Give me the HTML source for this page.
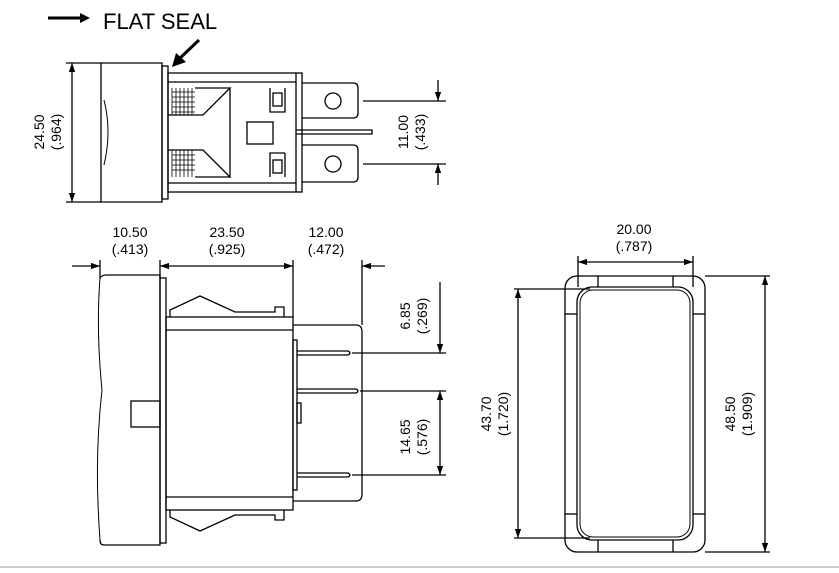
<!DOCTYPE html>
<html><head><style>body{margin:0;background:#fff}svg{display:block}</style></head><body>
<svg width="839" height="573" viewBox="0 0 839 573" xmlns="http://www.w3.org/2000/svg" font-family="Liberation Sans, sans-serif" fill="none" stroke="#000" stroke-width="1.3">
<defs>
<marker id="a" viewBox="0 0 10 10" refX="10" refY="5" markerWidth="9" markerHeight="9" orient="auto-start-reverse" markerUnits="userSpaceOnUse"><path d="M0,1.5L10,5L0,8.5z" fill="#000" stroke="none"/></marker>
</defs>
<line x1="48" y1="18" x2="82" y2="18" stroke-width="3"/>
<path d="M80,13L90,18L80,23z" fill="#000" stroke="none"/>
<text x="103" y="29" font-size="22" fill="#000" stroke="none">FLAT SEAL</text>
<line x1="199" y1="40" x2="178" y2="60" stroke-width="3"/>
<path d="M172,67L176,53L186,62z" fill="#000" stroke="none"/>

<path d="M101,63H162V202H101z"/>
<path d="M104,100Q112,132 104,165" stroke-width="1"/>
<rect x="162" y="66" width="6" height="133"/>
<rect x="168" y="73" width="134" height="119"/>
<line x1="168" y1="82" x2="296" y2="82"/><line x1="168" y1="183" x2="296" y2="183"/>
<line x1="296" y1="73" x2="296" y2="192"/>
<g stroke-width="0.8">
<path d="M172,88V115M176,88V115M180,88V115M184,88V115M188,88V115M192,88V115M172,150V177M176,150V177M180,150V177M184,150V177M188,150V177M192,150V177"/>
<path d="M172,92H195M172,97H195M172,102H195M172,107H195M172,112H195M172,155H195M172,160H195M172,165H195M172,170H195"/>
</g>
<path d="M195,88H230L203,115H168M195,177H230L203,150H168"/>
<line x1="230" y1="88" x2="230" y2="177"/>
<path d="M270,88V112H285V88M270,177V153H285V153 M285,177V153"/>
<rect x="273" y="93" width="9" height="13"/><rect x="273" y="160" width="9" height="13"/>
<rect x="247" y="122" width="26" height="22"/>
<path d="M302,83H353Q358,83 358,88V113Q358,118 353,118H302"/>
<path d="M302,145H353Q358,145 358,150V177Q358,182 353,182H302"/>
<circle cx="333" cy="101" r="8"/><circle cx="333" cy="164" r="8"/>
<path d="M296,130H372V134H296"/>
<line x1="363" y1="101" x2="446" y2="101"/><line x1="363" y1="164" x2="446" y2="164"/>
<line x1="438" y1="80" x2="438" y2="101" marker-end="url(#a)"/>
<line x1="438" y1="185" x2="438" y2="164" marker-end="url(#a)"/>
<g font-size="14" fill="#000" stroke="none" text-anchor="middle">
<text transform="translate(408,132) rotate(-90)">11.00</text>
<text transform="translate(425,132) rotate(-90)">(.433)</text>
<text transform="translate(44,132) rotate(-90)">24.50</text>
<text transform="translate(61,132) rotate(-90)">(.964)</text>
</g>
<line x1="66" y1="63" x2="101" y2="63"/><line x1="66" y1="202" x2="101" y2="202"/>
<line x1="72" y1="63" x2="72" y2="202" marker-start="url(#a)" marker-end="url(#a)"/>

<g font-size="14" fill="#000" stroke="none" text-anchor="middle">
<text x="130" y="237">10.50</text><text x="130" y="254">(.413)</text>
<text x="227" y="237">23.50</text><text x="227" y="254">(.925)</text>
<text x="326" y="237">12.00</text><text x="326" y="254">(.472)</text>
</g>
<line x1="100" y1="260" x2="100" y2="278"/><line x1="160" y1="260" x2="160" y2="278"/>
<line x1="293" y1="260" x2="293" y2="317"/><line x1="362" y1="260" x2="362" y2="325"/>
<line x1="72" y1="266" x2="100" y2="266" marker-end="url(#a)"/>
<line x1="160" y1="266" x2="293" y2="266" marker-start="url(#a)" marker-end="url(#a)"/>
<line x1="385" y1="266" x2="362" y2="266" marker-end="url(#a)"/>
<path d="M100,278Q102,275 106,275H160V545H104Q100,545 100,540"/>
<path d="M100,278Q96,330 102,390Q94,460 100,540" stroke-width="1"/>
<rect x="160" y="278" width="6" height="265"/>
<rect x="131" y="401" width="29" height="26"/>
<rect x="166" y="317" width="127" height="193"/>
<line x1="166" y1="330" x2="293" y2="330"/><line x1="166" y1="497" x2="293" y2="497"/>
<path d="M170,317V310L200,296L235,312H275V307H284V317"/>
<path d="M170,510V517L200,531L235,515H275V520H284V510"/>
<path d="M293,325H356Q362,325 362,332V494Q362,501 356,501H293"/>
<rect x="293" y="340" width="4" height="150"/>
<rect x="297" y="403" width="4" height="20"/>
<path d="M297,351H348Q352,353 348,355H297M297,389H356Q360,391 356,393H297M297,473H348Q352,475 348,477H297"/>
<line x1="352" y1="353" x2="446" y2="353"/><line x1="360" y1="391" x2="446" y2="391"/><line x1="352" y1="475" x2="446" y2="475"/>
<line x1="440" y1="282" x2="440" y2="353" marker-end="url(#a)"/>
<line x1="440" y1="391" x2="440" y2="475" marker-start="url(#a)" marker-end="url(#a)"/>
<g font-size="14" fill="#000" stroke="none" text-anchor="middle">
<text transform="translate(410,316) rotate(-90)">6.85</text><text transform="translate(427,316) rotate(-90)">(.269)</text>
<text transform="translate(410,437) rotate(-90)">14.65</text><text transform="translate(427,437) rotate(-90)">(.576)</text>
</g>

<rect x="565" y="276" width="140" height="276" rx="12"/>
<rect x="577" y="287" width="116" height="253" rx="15"/>
<rect x="580" y="290" width="110" height="247" rx="13" stroke-width="1"/>
<line x1="598" y1="276" x2="598" y2="287"/><line x1="673" y1="276" x2="673" y2="287"/>
<line x1="598" y1="540" x2="598" y2="552"/><line x1="673" y1="540" x2="673" y2="552"/>
<line x1="565" y1="314" x2="577" y2="314"/><line x1="693" y1="314" x2="705" y2="314"/>
<line x1="565" y1="514" x2="577" y2="514"/><line x1="693" y1="514" x2="705" y2="514"/>
<line x1="578" y1="256" x2="578" y2="287"/><line x1="693" y1="256" x2="693" y2="287"/>
<line x1="578" y1="262" x2="693" y2="262" marker-start="url(#a)" marker-end="url(#a)"/>
<g font-size="14" fill="#000" stroke="none" text-anchor="middle">
<text x="634" y="234">20.00</text><text x="634" y="251">(.787)</text>
</g>
<line x1="705" y1="276" x2="770" y2="276"/><line x1="705" y1="552" x2="770" y2="552"/>
<line x1="765" y1="276" x2="765" y2="552" marker-start="url(#a)" marker-end="url(#a)"/>
<line x1="514" y1="289" x2="590" y2="289"/><line x1="514" y1="538" x2="590" y2="538"/>
<line x1="518" y1="289" x2="518" y2="538" marker-start="url(#a)" marker-end="url(#a)"/>
<g font-size="14" fill="#000" stroke="none" text-anchor="middle">
<text transform="translate(491,414) rotate(-90)">43.70</text><text transform="translate(508,414) rotate(-90)">(1.720)</text>
<text transform="translate(735,414) rotate(-90)">48.50</text><text transform="translate(752,414) rotate(-90)">(1.909)</text>
</g>
<line x1="0" y1="567" x2="839" y2="567" stroke="#bbb" stroke-width="1.5"/>
</svg>
</body></html>
